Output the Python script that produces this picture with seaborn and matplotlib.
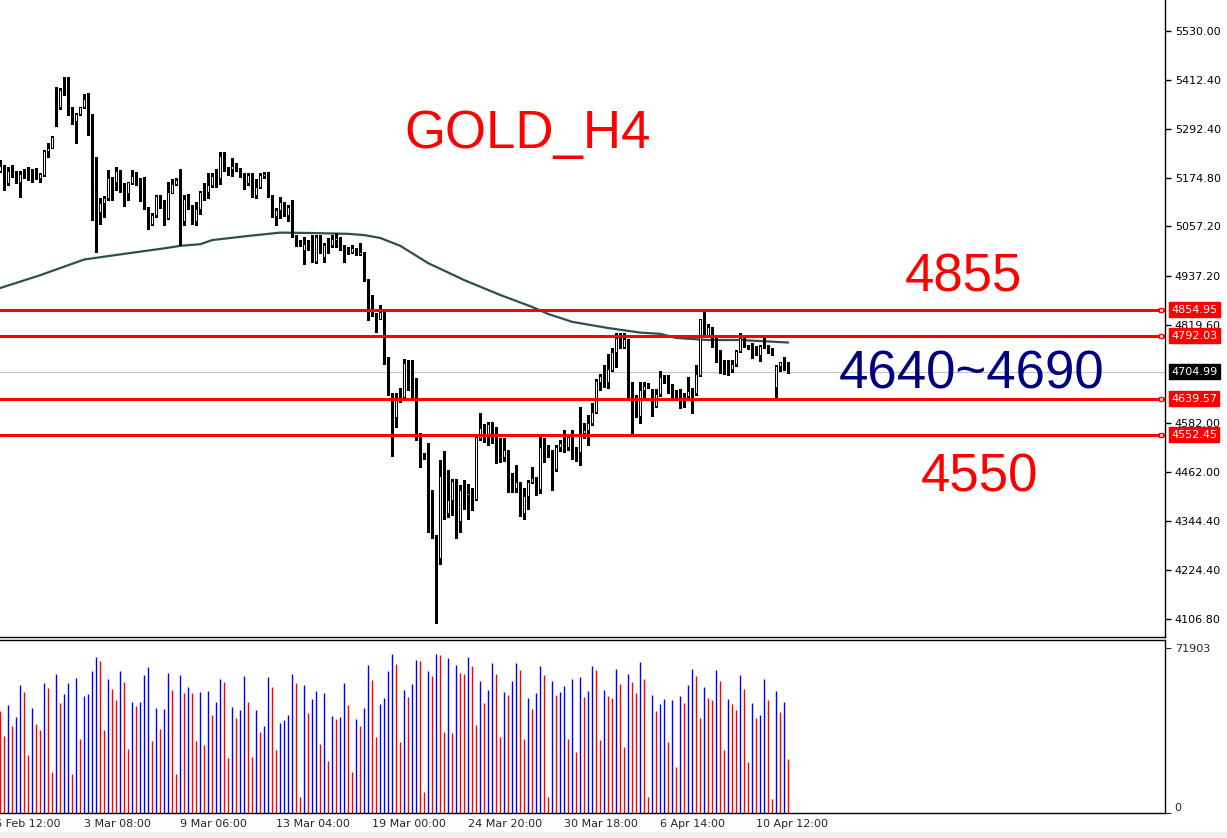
import numpy as np
import pandas as pd
import matplotlib
matplotlib.use("Agg")
import matplotlib.pyplot as plt
from matplotlib.ticker import MultipleLocator
import seaborn as sns

# H4 candles (bar 0 = leftmost visible bar)
opens = [5192, 5204, 5161, 5192, 5186, 5164, 5186, 5184, 5183, 5183,
         5173, 5182, 5240, 5248, 5373, 5345, 5387, 5387, 5333, 5313,
         5329, 5345, 5365, 5327, 5145, 5093, 5113, 5125, 5175, 5165,
         5192, 5151, 5137, 5163, 5179, 5161, 5161, 5102, 5063, 5085,
         5131, 5119, 5077, 5139, 5159, 5183, 5069, 5123, 5105, 5071,
         5098, 5140, 5140, 5157, 5179, 5173, 5228, 5198, 5197, 5203,
         5195, 5182, 5163, 5182, 5132, 5152, 5180, 5183, 5131, 5082,
         5097, 5115, 5085, 5106, 5032, 5016, 5000, 5014, 5018, 4974,
         5031, 4984, 5012, 5012, 5024, 5026, 5001, 5001, 4996, 5002,
         4990, 4994, 4929, 4859, 4847, 4832, 4851, 4729, 4653, 4595,
         4645, 4643, 4726, 4705, 4671, 4553, 4500, 4473, 4387, 4310,
         4254, 4453, 4363, 4396, 4441, 4345, 4417, 4406, 4411, 4397,
         4544, 4572, 4548, 4579, 4560, 4528, 4498, 4516, 4453, 4423,
         4439, 4363, 4404, 4438, 4447, 4421, 4522, 4512, 4468, 4469,
         4522, 4532, 4522, 4548, 4514, 4512, 4556, 4564, 4580, 4609,
         4681, 4695, 4681, 4710, 4752, 4786, 4764, 4784, 4676, 4637,
         4598, 4661, 4671, 4655, 4622, 4651, 4692, 4681, 4668, 4657,
         4659, 4647, 4647, 4658, 4655, 4697, 4832, 4794, 4813, 4784,
         4756, 4732, 4714, 4711, 4724, 4756, 4786, 4768, 4764, 4764,
         4747, 4768, 4764, 4760, 4669, 4719, 4730, 4714]
highs = [5218, 5206, 5202, 5206, 5190, 5191, 5196, 5200, 5195, 5199,
         5186, 5242, 5258, 5276, 5395, 5391, 5419, 5418, 5345, 5332,
         5347, 5378, 5379, 5329, 5224, 5125, 5131, 5194, 5177, 5202,
         5194, 5161, 5165, 5194, 5189, 5173, 5176, 5105, 5089, 5133,
         5133, 5121, 5165, 5171, 5173, 5196, 5133, 5135, 5109, 5117,
         5143, 5161, 5187, 5186, 5197, 5236, 5236, 5200, 5222, 5210,
         5198, 5186, 5186, 5186, 5171, 5186, 5189, 5189, 5133, 5101,
         5129, 5117, 5109, 5121, 5036, 5024, 5032, 5024, 5036, 5036,
         5036, 5016, 5030, 5036, 5042, 5032, 5012, 5008, 5012, 5004,
         5016, 4996, 4930, 4890, 4847, 4867, 4855, 4740, 4653, 4653,
         4665, 4735, 4734, 4734, 4690, 4556, 4509, 4534, 4419, 4310,
         4492, 4514, 4467, 4445, 4445, 4431, 4443, 4433, 4423, 4550,
         4605, 4579, 4584, 4584, 4572, 4546, 4544, 4516, 4459, 4480,
         4439, 4423, 4443, 4474, 4451, 4548, 4546, 4528, 4517, 4528,
         4540, 4564, 4554, 4564, 4522, 4621, 4580, 4601, 4629, 4687,
         4701, 4722, 4748, 4762, 4798, 4798, 4798, 4784, 4681, 4649,
         4681, 4681, 4677, 4663, 4663, 4708, 4697, 4697, 4675, 4661,
         4663, 4653, 4693, 4665, 4722, 4834, 4851, 4821, 4813, 4790,
         4758, 4734, 4734, 4734, 4758, 4798, 4790, 4770, 4774, 4768,
         4770, 4786, 4770, 4762, 4722, 4730, 4742, 4730]
lows = [5189, 5144, 5157, 5177, 5161, 5129, 5173, 5169, 5165, 5172,
        5165, 5179, 5224, 5246, 5300, 5340, 5375, 5327, 5305, 5260,
        5327, 5343, 5278, 5072, 4994, 5064, 5081, 5121, 5121, 5145,
        5141, 5107, 5121, 5160, 5157, 5119, 5098, 5050, 5060, 5081,
        5101, 5060, 5075, 5137, 5157, 5012, 5060, 5100, 5064, 5061,
        5087, 5121, 5125, 5153, 5153, 5160, 5190, 5181, 5179, 5190,
        5177, 5147, 5157, 5129, 5125, 5149, 5174, 5129, 5079, 5061,
        5077, 5082, 5069, 5031, 5010, 5010, 4966, 5000, 4972, 4969,
        4992, 4972, 4992, 5008, 5008, 4999, 4972, 4990, 4992, 4988,
        4988, 4924, 4830, 4840, 4802, 4832, 4724, 4649, 4501, 4572,
        4633, 4641, 4661, 4645, 4540, 4475, 4493, 4318, 4304, 4098,
        4241, 4350, 4353, 4358, 4304, 4318, 4373, 4350, 4371, 4395,
        4540, 4535, 4528, 4532, 4485, 4486, 4490, 4415, 4415, 4415,
        4356, 4350, 4373, 4435, 4407, 4411, 4486, 4498, 4419, 4466,
        4514, 4512, 4516, 4493, 4490, 4480, 4544, 4528, 4576, 4606,
        4660, 4669, 4665, 4708, 4717, 4762, 4762, 4643, 4555, 4595,
        4580, 4643, 4667, 4598, 4621, 4647, 4677, 4655, 4645, 4643,
        4617, 4621, 4637, 4606, 4649, 4695, 4790, 4790, 4766, 4730,
        4703, 4700, 4697, 4705, 4719, 4754, 4764, 4760, 4738, 4746,
        4732, 4762, 4750, 4746, 4641, 4708, 4710, 4703]
closes = [5203, 5161, 5190, 5186, 5164, 5183, 5183, 5184, 5182, 5173,
          5183, 5240, 5248, 5273, 5345, 5387, 5386, 5331, 5313, 5329,
          5345, 5365, 5325, 5144, 5093, 5113, 5127, 5173, 5165, 5190,
          5148, 5137, 5164, 5179, 5161, 5161, 5101, 5063, 5085, 5131,
          5119, 5077, 5140, 5159, 5169, 5069, 5123, 5103, 5071, 5098,
          5140, 5141, 5157, 5179, 5173, 5228, 5198, 5195, 5203, 5195,
          5182, 5163, 5182, 5132, 5152, 5182, 5183, 5131, 5082, 5097,
          5117, 5085, 5105, 5032, 5016, 5016, 5014, 5018, 4976, 5031,
          5012, 5012, 5010, 5026, 5028, 5000, 4998, 4996, 5004, 4996,
          4996, 4927, 4860, 4843, 4835, 4851, 4727, 4651, 4595, 4643,
          4643, 4726, 4705, 4669, 4553, 4500, 4502, 4385, 4308, 4254,
          4453, 4364, 4396, 4441, 4345, 4419, 4408, 4412, 4397, 4548,
          4568, 4540, 4579, 4556, 4528, 4498, 4516, 4453, 4423, 4438,
          4364, 4404, 4438, 4447, 4421, 4522, 4512, 4504, 4467, 4522,
          4532, 4522, 4548, 4512, 4514, 4556, 4564, 4580, 4609, 4684,
          4695, 4692, 4711, 4752, 4786, 4764, 4784, 4673, 4598, 4598,
          4661, 4671, 4673, 4622, 4651, 4692, 4679, 4668, 4655, 4657,
          4647, 4646, 4659, 4657, 4699, 4832, 4794, 4813, 4770, 4754,
          4730, 4714, 4713, 4724, 4756, 4786, 4768, 4762, 4764, 4747,
          4768, 4764, 4760, 4748, 4719, 4730, 4714, 4705]
volumes = [44500, 33600, 47200, 38000, 41900, 55900, 52900, 25300, 45800, 38800,
           36200, 56800, 54600, 17800, 60700, 48000, 52000, 56800, 16900, 59000,
           32300, 51100, 52000, 62100, 68200, 66400, 36200, 58500, 54200, 49300,
           62100, 57200, 27900, 48500, 46700, 48600, 60300, 63800, 31400, 45800,
           36600, 45400, 61200, 53700, 16900, 60300, 52400, 55000, 52400, 31400,
           52900, 29600, 53300, 42800, 48500, 58500, 57200, 23900, 46300, 41500,
           45000, 59900, 48500, 24400, 45000, 35300, 38000, 59400, 55000, 27400,
           39300, 40600, 42800, 60700, 56800, 6900, 55900, 43700, 49800, 53300,
           30100, 52400, 22600, 42300, 41000, 41900, 56800, 47200, 17800, 41000,
           38000, 45800, 64700, 58100, 33100, 47600, 50200, 62100, 69500, 65100,
           31000, 53700, 50700, 56400, 66900, 66400, 9100, 62100, 59900, 69500,
           69100, 35300, 67700, 34900, 64700, 61200, 60700, 68200, 64200, 38400,
           57700, 48000, 53700, 65600, 60700, 33100, 52900, 51500, 57700, 65600,
           62500, 32300, 50200, 45400, 52400, 64200, 60300, 6900, 57700, 51500,
           52900, 55500, 32300, 58500, 26600, 59400, 50700, 53300, 64200, 62500,
           31800, 53700, 51100, 50200, 62900, 56400, 28800, 60700, 57200, 52400,
           66000, 58500, 6900, 51500, 44500, 47600, 49800, 31000, 49300, 20000,
           51100, 48000, 55900, 62900, 59900, 41500, 55000, 50200, 49300, 62500,
           57700, 27400, 49800, 47600, 45000, 60300, 54200, 22200, 48000, 41500,
           42800, 58500, 49300, 6000, 53300, 44100, 48500, 23500]

# moving average, read at a few bars
ma_bars = [0, 10, 21, 32, 41, 45, 50, 53, 62, 70, 78, 87, 91, 95, 100,
           107, 116, 125, 133, 137, 143, 152, 160, 165, 169, 177, 185, 193, 197]
ma_values = [4908, 4939, 4977, 4992, 5004, 5010, 5014, 5024, 5034, 5042, 5041,
             5039, 5036, 5029, 5010, 4968, 4927, 4891, 4862, 4845, 4826, 4811,
             4800, 4797, 4787, 4782, 4782, 4778, 4776]

levels = [4854.95, 4792.03, 4639.57, 4552.45]
last_price = 4704.99
price_ticks = [5530.00, 5412.40, 5292.40, 5174.80, 5057.20, 4937.20, 4819.60,
               4582.00, 4462.00, 4344.40, 4224.40, 4106.80]
vol_max = 71903
time_ticks = [-3, 21, 45, 69, 93, 117, 141, 165, 189]
time_labels = ["26 Feb 12:00", "3 Mar 08:00", "9 Mar 06:00", "13 Mar 04:00",
               "19 Mar 00:00", "24 Mar 20:00", "30 Mar 18:00", "6 Apr 14:00",
               "10 Apr 12:00"]

sns.set_style("white")
plt.rcParams['font.family'] = ['DejaVu Sans']

W, H = 1227, 838
fig = plt.figure(figsize=(W / 100, H / 100), dpi=100)
ax = fig.add_axes([0, 1 - 637 / H, 1165 / W, 637 / H])
axv = fig.add_axes([0, 1 - 812.5 / H, 1165 / W, 172.5 / H])

xlim = (-0.075, 291.175)
n = len(opens)
x = np.arange(n)
o = np.array(opens, float)
c = np.array(closes, float)

# candles
ax.vlines(x, lows, highs, color='black', lw=0.75, antialiased=False, zorder=2)
up = c >= o
bottom = np.minimum(o, c)
height = np.maximum(np.abs(c - o), 0.5)
ax.bar(x[up], height[up], bottom=bottom[up], width=0.55, facecolor='white',
       edgecolor='black', lw=0.75, zorder=3)
ax.bar(x[~up], height[~up], bottom=bottom[~up], width=0.55, facecolor='black',
       edgecolor='black', lw=0.75, zorder=3)

# moving average
ma = pd.DataFrame({'bar': ma_bars, 'ma': ma_values})
sns.lineplot(data=ma, x='bar', y='ma', ax=ax, color='#2F4F4F', lw=1.6, zorder=1)

# levels
ax.axhline(last_price, color='#C0C0C0', lw=0.8, zorder=0)
for lv in levels:
    ax.axhline(lv, color='red', lw=2.2, zorder=4)
    ax.plot([0.9965], [lv], transform=ax.get_yaxis_transform(), marker='s', ms=3.2,
            mfc='white', mec='red', mew=1, clip_on=False, zorder=5)
    ax.text(1.0 + 6 / 1165, lv, f"{lv:.2f}", transform=ax.get_yaxis_transform(),
            color='white', fontsize=8, va='center', ha='left', clip_on=False,
            bbox=dict(boxstyle='square,pad=0.22', fc='red', ec='red'))
ax.text(1.0 + 6 / 1165, last_price, f"{last_price:.2f}", transform=ax.get_yaxis_transform(),
        color='white', fontsize=8, va='center', ha='left', clip_on=False,
        bbox=dict(boxstyle='square,pad=0.22', fc='black', ec='black'))

ax.set_xlim(*xlim)
ax.set_ylim(5530 - 606 * 2.4204, 5530 + 31 * 2.4204)
ax.set_xlabel('')
ax.set_ylabel('')
ax.set_xticks([])
ax.yaxis.tick_right()
ax.set_yticks(price_ticks)
ax.set_yticklabels([f"{t:.2f}" for t in price_ticks])
ax.tick_params(axis='y', right=True, direction='out', length=4, width=1, pad=3,
               labelsize=8, colors='black')
for side in ['left', 'top']:
    ax.spines[side].set_visible(False)
for side in ['right', 'bottom']:
    ax.spines[side].set_color('black')
    ax.spines[side].set_linewidth(1)

# volumes, blue when above the previous bar, red otherwise
vol = np.array(volumes, float)
vcolors = ['red'] + ['blue' if vol[i] > vol[i - 1] else 'red' for i in range(1, n)]
axv.vlines(x, 0, vol, colors=vcolors, lw=1.0, antialiased=True)
axv.set_xlim(*xlim)
axv.set_ylim(0, 75600)
axv.yaxis.tick_right()
axv.set_yticks([0, vol_max])
axv.set_yticklabels(['0', str(vol_max)])
axv.tick_params(axis='y', right=True, direction='out', length=4, pad=3, labelsize=8)
axv.get_yticklabels()[0].set_va('bottom')
axv.set_xticks(time_ticks[1:])
axv.set_xticklabels([])
axv.xaxis.set_minor_locator(MultipleLocator(1))
axv.tick_params(axis='x', which='major', direction='out', length=4, width=1)
axv.tick_params(axis='x', which='minor', direction='out', length=2, width=1.3)
for t, lab in zip(time_ticks, time_labels):
    axv.text(t, -0.04, lab, transform=axv.get_xaxis_transform(), ha='left', va='top',
             fontsize=8, clip_on=False)
axv.spines['left'].set_visible(False)
for side in ['right', 'bottom', 'top']:
    axv.spines[side].set_color('black')
    axv.spines[side].set_linewidth(1)

# annotations
big = dict(fontsize=38, ha='center', va='baseline', family=['Liberation Sans', 'DejaVu Sans'])
fig.text(528 / W, 1 - 148 / H, "GOLD_H4", color='red', **big)
fig.text(963 / W, 1 - 292 / H, "4855", color='red', **big)
fig.text(972 / W, 1 - 388 / H, "4640~4690", color='#000080', **big)
fig.text(979 / W, 1 - 491 / H, "4550", color='red', **big)

fig.patches.append(plt.Rectangle((0, 0), 1, 6 / H, transform=fig.transFigure,
                                 color='#F0F0F0', zorder=-1))

fig.savefig("out.png", dpi=100)
